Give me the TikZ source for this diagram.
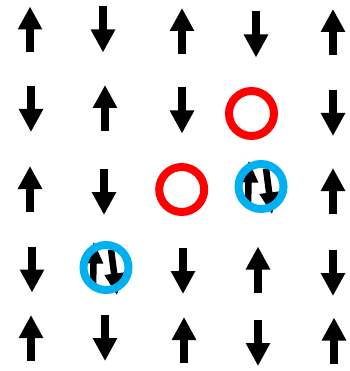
\documentclass[tikz,border=0pt]{standalone}
\usepackage{tikz}
\usetikzlibrary{arrows.meta}
\definecolor{holered}{RGB}{255,0,0}
\definecolor{pairblue}{RGB}{0,176,240}

\tikzset{
    spin/.style={line width=8pt, -{Triangle[width=23pt,length=23pt]}},
    pairspin/.style={line width=6.5pt, -{Triangle[width=18pt,length=22pt]}},
    hole/.style={holered, line width=8pt},
    pairring/.style={pairblue, line width=8pt}
}

\begin{document}
\begin{tikzpicture}[x=1pt,y=-1pt]
    % Frame
    \useasboundingbox (0,0) rectangle (349,371);

    % Single spins: x / y / direction (1 = up, -1 = down)
    \foreach \x/\y/\s in {30/29.5/1, 103/29.5/-1, 182/31/1, 256/34.5/-1, 333/32/1,
                          31/109/-1, 105/108/1, 182/110.5/-1, 333/113/-1,
                          30/189/1, 104/192/-1, 333/191/1,
                          32/269.5/-1, 183/271/-1, 258/269.5/1, 333/273/-1,
                          31/338/1, 105/338/-1, 184/340/1, 258/343/-1, 334/340.5/1} {
        \draw[spin] (\x,{\y+23*(\s)}) -- (\x,{\y-23*(\s)});
    }

    % Empty sites
    \foreach \x/\y in {251.5/113.5, 181.7/189.5} {
        \draw[hole] (\x,\y) circle[radius=22.5];
    }

    % Doubly occupied sites
    \foreach \x/\y in {261/186.5, 106/267.5} {
        \draw[pairspin] (\x-13,\y+18) -- (\x-12,\y-26);
        \draw[pairspin] (\x+5,\y-18) -- (\x+11,\y+28);
        \draw[pairring] (\x,\y) circle[radius=22.5];
    }
\end{tikzpicture}
\end{document}
